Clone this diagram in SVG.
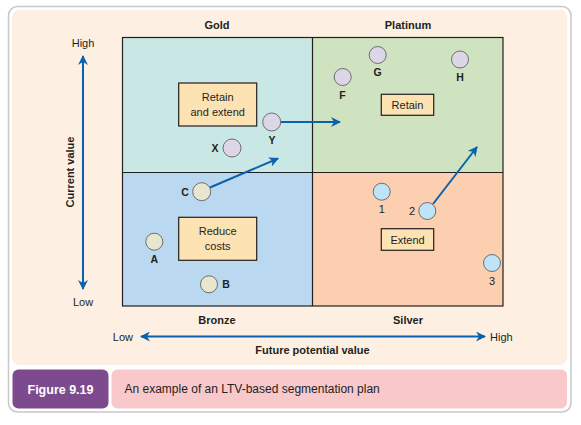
<svg xmlns="http://www.w3.org/2000/svg" width="581" height="425" viewBox="0 0 581 425">
<style>
text{font-family:"Liberation Sans",Arial,sans-serif;fill:#231f20}
.b{font-weight:bold}
.t{font-size:11px;font-weight:bold;text-anchor:middle}
.ax{font-size:11px}
.act{fill:#fde2b4;stroke:#231f20;stroke-width:1.2}
.al{font-size:11px;text-anchor:middle}
.cu{fill:#ddd5e8;stroke:#6d6e71;stroke-width:1}
.cl{fill:#e8e6cc;stroke:#6d6e71;stroke-width:1}
.cr{fill:#bfe3f7;stroke:#6d6e71;stroke-width:1}
.lb{font-size:10.5px;font-weight:bold;text-anchor:middle}
.ln{font-size:11px;text-anchor:middle}
.conn{stroke:#0a62ad;stroke-width:2;fill:none}
</style>
<defs>
<marker id="ah" viewBox="0 0 10 10" refX="9" refY="5" markerWidth="5" markerHeight="5" orient="auto-start-reverse" markerUnits="strokeWidth">
<path d="M0,0 L10,5 L0,10 L3,5 z" fill="#0a62ad"/>
</marker>
</defs>
<rect x="8.5" y="6.5" width="562.5" height="405.5" rx="9" fill="#ffffff" stroke="#c8c8c8" stroke-width="1.5"/>
<rect x="12" y="10" width="555" height="355" rx="7" fill="#fdf0e2"/>
<g id="quadrants">
<rect x="122.5" y="37.5" width="190" height="135" fill="#c9e7e4"/>
<rect x="312.5" y="37.5" width="190.5" height="135" fill="#cfe3c0"/>
<rect x="122.5" y="172.5" width="190" height="133.5" fill="#bad8f0"/>
<rect x="312.5" y="172.5" width="190.5" height="133.5" fill="#fbcfaf"/>
<rect x="122.5" y="37.5" width="380.5" height="268.5" fill="none" stroke="#231f20" stroke-width="1.2"/>
<line x1="312.5" y1="37.5" x2="312.5" y2="306" stroke="#231f20" stroke-width="1.2"/>
<line x1="122.5" y1="172.5" x2="503" y2="172.5" stroke="#231f20" stroke-width="1.2"/>
</g>
<text class="t" x="217" y="29">Gold</text>
<text class="t" x="408" y="29">Platinum</text>
<text class="t" x="217" y="323.5">Bronze</text>
<text class="t" x="408" y="323.5">Silver</text>
<g id="axes">
<line class="conn" x1="83" y1="56" x2="83" y2="289" stroke-width="3" marker-start="url(#ah)" marker-end="url(#ah)"/>
<line class="conn" x1="141" y1="336.5" x2="485" y2="336.5" stroke-width="3" marker-start="url(#ah)" marker-end="url(#ah)"/>
<text class="ax" x="83" y="47" text-anchor="middle">High</text>
<text class="ax" x="83" y="305.5" text-anchor="middle">Low</text>
<text class="ax" x="133" y="340.5" text-anchor="end">Low</text>
<text class="ax" x="490" y="340.5">High</text>
<text class="t" x="312.5" y="354">Future potential value</text>
<text class="t" transform="translate(74,172) rotate(-90)">Current value</text>
</g>
<g id="connectors">
<line class="conn" x1="281" y1="122" x2="340" y2="122" marker-end="url(#ah)"/>
<line class="conn" x1="210" y1="187.5" x2="278" y2="158.5" marker-end="url(#ah)"/>
<line class="conn" x1="433" y1="204" x2="477" y2="147" marker-end="url(#ah)"/>
</g>
<g id="retain-extend">
<rect class="act" x="178.7" y="83" width="78" height="43"/>
<text class="al" x="217.7" y="101">Retain</text>
<text class="al" x="217.7" y="116">and extend</text>
</g>
<g id="retain">
<rect class="act" x="381.3" y="94.3" width="52.4" height="21"/>
<text class="al" x="407.5" y="109">Retain</text>
</g>
<g id="reduce-costs">
<rect class="act" x="178.7" y="217.3" width="78" height="43"/>
<text class="al" x="217.7" y="235">Reduce</text>
<text class="al" x="217.7" y="250">costs</text>
</g>
<g id="extend">
<rect class="act" x="381.3" y="228.7" width="52.4" height="21.6"/>
<text class="al" x="407.5" y="243.5">Extend</text>
</g>
<g id="node-Y"><circle class="cu" cx="271.7" cy="122" r="9"/><text class="lb" x="272" y="144">Y</text></g>
<g id="node-X"><circle class="cu" cx="232" cy="148" r="9"/><text class="lb" x="215" y="152">X</text></g>
<g id="node-F"><circle class="cu" cx="342.7" cy="77" r="8.5"/><text class="lb" x="342.5" y="99">F</text></g>
<g id="node-G"><circle class="cu" cx="377.7" cy="55" r="8.5"/><text class="lb" x="377.5" y="76">G</text></g>
<g id="node-H"><circle class="cu" cx="460" cy="59.5" r="8.5"/><text class="lb" x="460" y="81">H</text></g>
<g id="node-C"><circle class="cl" cx="201.7" cy="191.7" r="9"/><text class="lb" x="185" y="195.5">C</text></g>
<g id="node-A"><circle class="cl" cx="154.3" cy="241.7" r="8.5"/><text class="lb" x="154.3" y="263">A</text></g>
<g id="node-B"><circle class="cl" cx="209" cy="284.3" r="8.5"/><text class="lb" x="226" y="288.3">B</text></g>
<g id="node-1"><circle class="cr" cx="381.7" cy="191.7" r="8.5"/><text class="ln" x="381.7" y="213">1</text></g>
<g id="node-2"><circle class="cr" cx="427.3" cy="211" r="8.5"/><text class="ln" x="412" y="215">2</text></g>
<g id="node-3"><circle class="cr" cx="492" cy="263" r="8.5"/><text class="ln" x="492" y="284.5">3</text></g>
<g id="caption">
<rect x="12.5" y="369.5" width="96" height="39" rx="6" fill="#7e4a8e"/>
<text x="60.5" y="393.5" font-size="12.5" font-weight="bold" text-anchor="middle" style="fill:#ffffff">Figure 9.19</text>
<rect x="111.5" y="369.5" width="455.5" height="39" rx="6" fill="#f9c8cb"/>
<text x="124.5" y="393" font-size="12">An example of an LTV-based segmentation plan</text>
</g>
</svg>
